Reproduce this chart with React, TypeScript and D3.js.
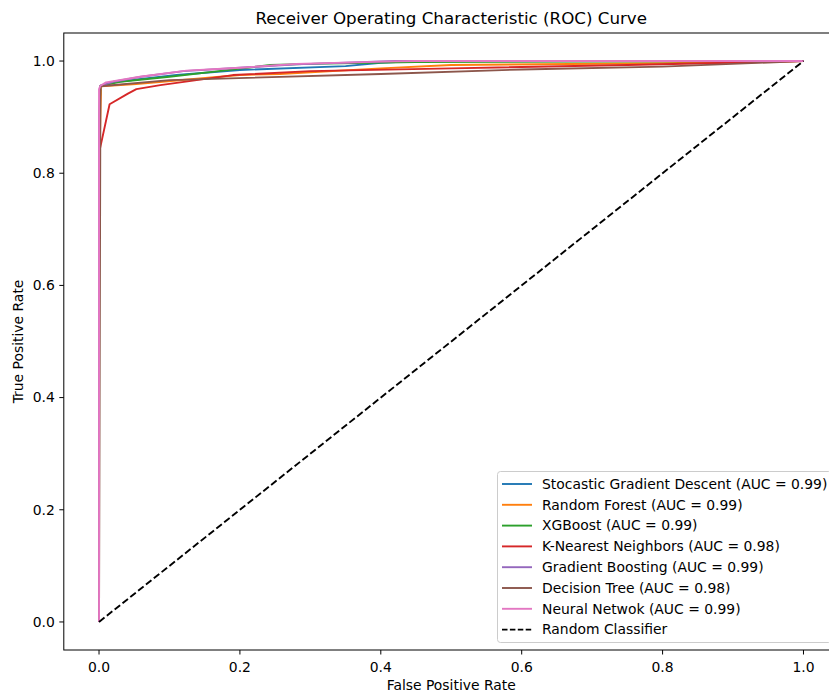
import React from 'react';
import * as d3 from 'd3';

// ROC points (fpr / tpr per model)
const sgdFpr = [0, 0, 0.002, 0.02, 0.06, 0.11, 0.2, 0.35, 0.4, 0.45, 1];
const sgdTpr = [0, 0.85, 0.955, 0.962, 0.968, 0.975, 0.984, 0.991, 0.997, 1, 1];

const rfFpr = [0, 0, 0.003, 0.053, 0.2, 0.257, 0.4, 0.5, 0.8, 1];
const rfTpr = [0, 0.8, 0.955, 0.959, 0.975, 0.977, 0.987, 0.993, 0.996, 1];

const xgbFpr = [0, 0, 0.002, 0.03, 0.1, 0.17, 0.243, 0.3, 0.45, 1];
const xgbTpr = [0, 0.88, 0.956, 0.963, 0.972, 0.982, 0.993, 0.995, 0.998, 1];

const knnFpr = [0, 0, 0.004, 0.015, 0.041, 0.053, 0.087, 0.19, 0.3, 0.5, 0.75, 1];
const knnTpr = [0, 0.836, 0.859, 0.923, 0.942, 0.95, 0.957, 0.975, 0.982, 0.987, 0.993, 1];

const gbFpr = [0, 0, 0.002, 0.02, 0.06, 0.12, 0.2, 0.28, 0.42, 1];
const gbTpr = [0, 0.9, 0.956, 0.963, 0.972, 0.982, 0.988, 0.994, 1, 1];

const dtFpr = [0, 0.002, 0.1, 0.4, 0.6, 0.8, 1];
const dtTpr = [0, 0.955, 0.966, 0.977, 0.985, 0.99, 1];

const nnFpr = [0, 0, 0.002, 0.01, 0.058, 0.124, 0.2, 0.28, 0.4, 0.45, 1];
const nnTpr = [0, 0.95, 0.956, 0.962, 0.972, 0.983, 0.988, 0.995, 0.999, 1, 1];

const modelNames = [
  'Stocastic Gradient Descent',
  'Random Forest',
  'XGBoost',
  'K-Nearest Neighbors',
  'Gradient Boosting',
  'Decision Tree',
  'Neural Netwok',
];
const aucValues = [0.99, 0.99, 0.99, 0.98, 0.99, 0.98, 0.99];
const colors = ['#1f77b4', '#ff7f0e', '#2ca02c', '#d62728', '#9467bd', '#8c564b', '#e377c2'];
const ticks = [0, 0.2, 0.4, 0.6, 0.8, 1.0];

const series = [
  [sgdFpr, sgdTpr],
  [rfFpr, rfTpr],
  [xgbFpr, xgbTpr],
  [knnFpr, knnTpr],
  [gbFpr, gbTpr],
  [dtFpr, dtTpr],
  [nnFpr, nnTpr],
];

const W = 829;
const H = 694;
const FONT = '"DejaVu Sans", sans-serif';
const FS = 13.9;

export default function App() {
  const left = 63.8, right = 838.7, top = 33, bottom = 650;
  const x = d3.scaleLinear().domain([-0.05, 1.05]).range([left, right]);
  const y = d3.scaleLinear().domain([-0.05, 1.05]).range([bottom, top]);

  const line = d3
    .line<[number, number]>()
    .x((d) => x(d[0]))
    .y((d) => y(d[1]));

  const legendX = 497.5;
  const legendY = 471.5;
  const rowH = 20.8;
  const legendItems = [
    ...modelNames.map((n, i) => ({ label: `${n} (AUC = ${aucValues[i].toFixed(2)})`, color: colors[i], dash: null as string | null })),
    { label: 'Random Classifier', color: '#000', dash: '5.5,2.4' },
  ];

  return (
    <svg
      width={W}
      height={H}
      style={{ position: 'absolute', left: 0, top: 0, background: '#fff' }}
      fontFamily={FONT}
    >
      <rect width={W} height={H} fill="#fff" />
      <defs>
        <clipPath id="plotclip">
          <rect x={left} y={top} width={right - left} height={bottom - top} />
        </clipPath>
      </defs>

      {/* curves */}
      <g clipPath="url(#plotclip)">
        {series.map(([fpr, tpr], i) => (
          <path
            key={i}
            d={line(fpr.map((f, j) => [f, tpr[j]] as [number, number])) || ''}
            fill="none"
            stroke={colors[i]}
            strokeWidth={1.9}
            strokeLinejoin="round"
          />
        ))}
        <path
          d={line([[0, 0], [1, 1]]) || ''}
          fill="none"
          stroke="#000"
          strokeWidth={1.9}
          strokeDasharray="7,3"
        />
      </g>

      {/* spines */}
      <rect x={left} y={top} width={right - left} height={bottom - top} fill="none" stroke="#000" strokeWidth={1} />

      {/* x ticks */}
      {ticks.map((t) => (
        <g key={'x' + t}>
          <line x1={x(t)} x2={x(t)} y1={bottom} y2={bottom + 4.5} stroke="#000" strokeWidth={1} />
          <text x={x(t)} y={bottom + 22} fontSize={FS} textAnchor="middle" fill="#000">
            {t.toFixed(1)}
          </text>
        </g>
      ))}
      {/* y ticks */}
      {ticks.map((t) => (
        <g key={'y' + t}>
          <line x1={left - 4.5} x2={left} y1={y(t)} y2={y(t)} stroke="#000" strokeWidth={1} />
          <text x={left - 9} y={y(t)} dy="0.35em" fontSize={FS} textAnchor="end" fill="#000">
            {t.toFixed(1)}
          </text>
        </g>
      ))}

      {/* labels */}
      <text x={(left + right) / 2} y={690} fontSize={FS} textAnchor="middle" fill="#000">
        False Positive Rate
      </text>
      <text
        transform={`translate(23, ${(top + bottom) / 2}) rotate(-90)`}
        fontSize={FS}
        textAnchor="middle"
        fill="#000"
      >
        True Positive Rate
      </text>
      <text x={(left + right) / 2} y={24} fontSize={16.7} textAnchor="middle" fill="#000">
        Receiver Operating Characteristic (ROC) Curve
      </text>

      {/* legend */}
      <rect
        x={legendX}
        y={legendY}
        width={right - 7 - legendX}
        height={171}
        rx={3}
        fill="#fff"
        fillOpacity={0.8}
        stroke="#cccccc"
        strokeWidth={1}
      />
      {legendItems.map((d, i) => {
        const cy = legendY + 12.5 + i * rowH;
        return (
          <g key={d.label}>
            <line
              x1={legendX + 4.5}
              x2={legendX + 34.5}
              y1={cy}
              y2={cy}
              stroke={d.color}
              strokeWidth={1.9}
              strokeDasharray={d.dash || undefined}
            />
            <text x={legendX + 44.5} y={cy} dy="0.35em" fontSize={FS} fill="#000">
              {d.label}
            </text>
          </g>
        );
      })}
    </svg>
  );
}
